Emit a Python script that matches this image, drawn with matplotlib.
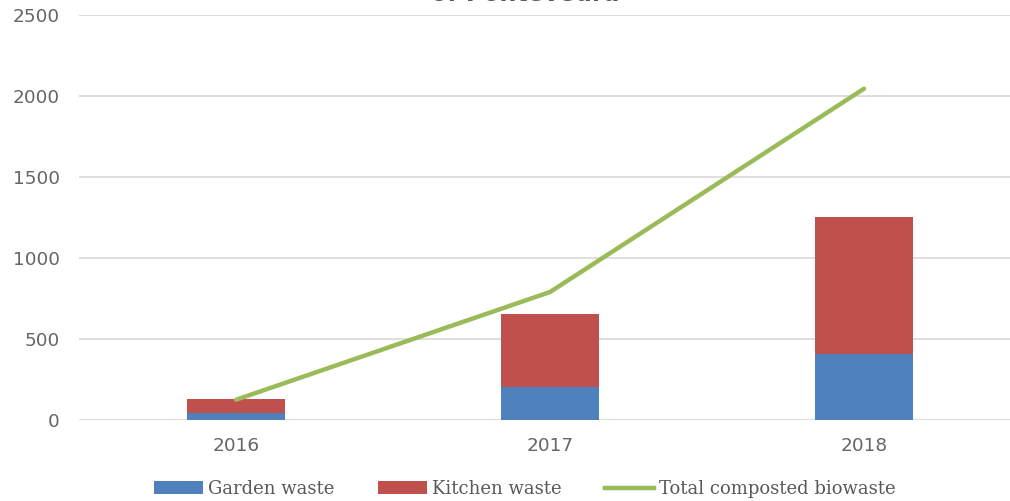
import matplotlib
matplotlib.use("Agg")
import matplotlib.pyplot as plt
from matplotlib.lines import Line2D
from matplotlib.patches import Patch

years = ["2016", "2017", "2018"]
garden = [43, 205, 405]
kitchen = [85, 450, 845]
total = [125, 790, 2045]
yticks = [0, 500, 1000, 1500, 2000, 2500]

W, H = 1010, 501
fig = plt.figure(figsize=(W / 100, H / 100), dpi=100)
# axes in pixel coordinates: left 79, right 1021, top 15, bottom 420
ax = fig.add_axes([79 / W, 1 - 420 / H, (1021 - 79) / W, (420 - 15) / H])

blue = "#4f81bd"
red = "#c0504d"
green = "#9bbb59"
x = list(range(len(years)))
bw = 0.315
ax.bar(x, garden, width=bw, color=blue, zorder=3)
ax.bar(x, kitchen, width=bw, bottom=garden, color=red, zorder=3)
ax.plot(x, total, color=green, lw=3.2, solid_capstyle="round", zorder=4)

ax.set_xlim(-0.5, 2.5)
ax.set_ylim(0, 2500)
ax.set_yticks(yticks)
ax.set_xticks(x)
ax.set_xticklabels(years)
ax.grid(axis="y", color="#d9d9d9", lw=1.2, zorder=0)
for s in ax.spines.values():
    s.set_visible(False)
ax.tick_params(axis="both", length=0, colors="#666666", labelsize=13.3)
ax.tick_params(axis="y", pad=14)
ax.tick_params(axis="x", pad=12)
for lab in ax.get_xticklabels() + ax.get_yticklabels():
    lab.set_fontfamily("DejaVu Sans")

fig.text(525 / W, 1 - (-6) / H, "of Pontevedra", ha="center", va="center",
         fontsize=17, fontweight="bold", color="#595959", family="DejaVu Sans")

handles = [Patch(facecolor=blue, label="Garden waste"),
           Patch(facecolor=red, label="Kitchen waste"),
           Line2D([0], [0], color=green, lw=3.2, label="Total composted biowaste")]
leg = fig.legend(handles=handles, loc="center", bbox_to_anchor=(525 / W, 1 - 489 / H),
                 ncol=3, frameon=False, handlelength=2.7, handleheight=0.7,
                 handletextpad=0.3, columnspacing=2.4,
                 prop={"family": "DejaVu Serif", "size": 13})
for t in leg.get_texts():
    t.set_color("#595959")

fig.savefig("out.png", dpi=100)
